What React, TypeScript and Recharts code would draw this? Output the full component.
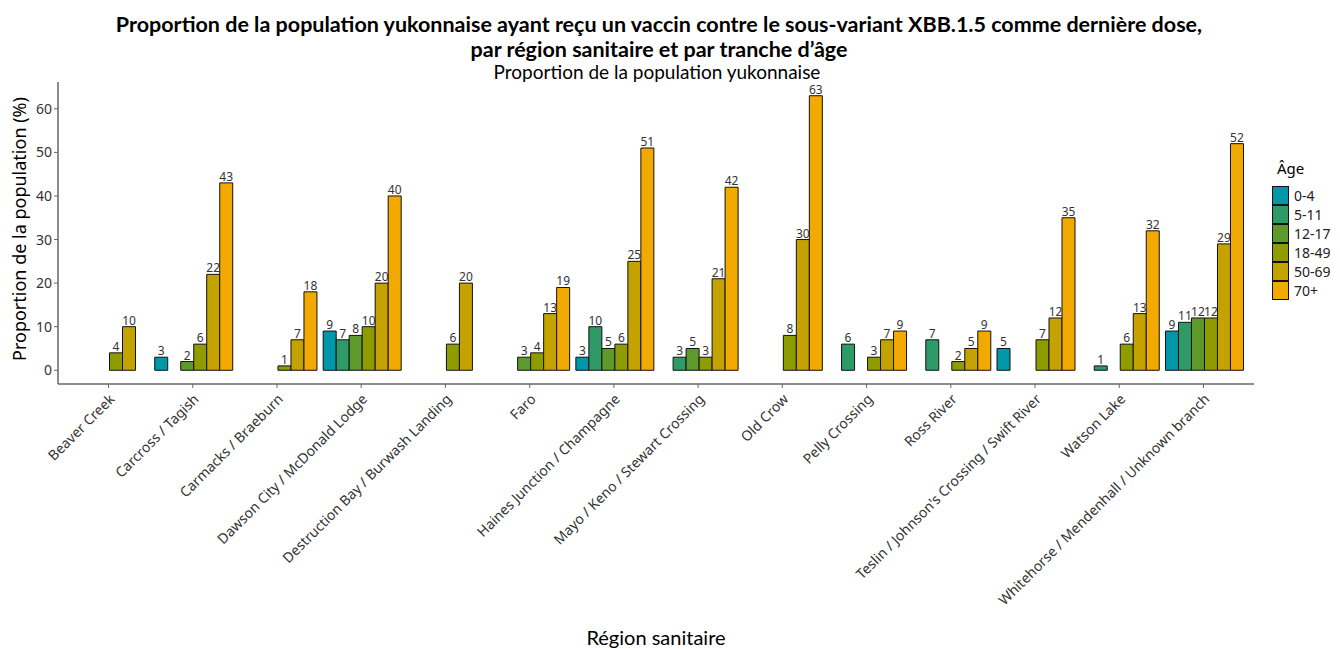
import { Bar, BarChart, LabelList, XAxis, YAxis } from "recharts";

const regions = [
  "Beaver Creek",
  "Carcross / Tagish",
  "Carmacks / Braeburn",
  "Dawson City / McDonald Lodge",
  "Destruction Bay / Burwash Landing",
  "Faro",
  "Haines Junction / Champagne",
  "Mayo / Keno / Stewart Crossing",
  "Old Crow",
  "Pelly Crossing",
  "Ross River",
  "Teslin / Johnson's Crossing / Swift River",
  "Watson Lake",
  "Whitehorse / Mendenhall / Unknown branch",
];

const ageGroups = ["0-4", "5-11", "12-17", "18-49", "50-69", "70+"];

const age0to4 = [null, 3, null, 9, null, null, 3, null, null, null, null, 5, null, 9];
const age5to11 = [null, null, null, 7, null, null, 10, 3, null, 6, 7, null, 1, 11];
const age12to17 = [null, 2, null, 8, null, 3, 5, 5, null, null, null, null, null, 12];
const age18to49 = [4, 6, 1, 10, 6, 4, 6, 3, 8, 3, 2, 7, 6, 12];
const age50to69 = [10, 22, 7, 20, 20, 13, 25, 21, 30, 7, 5, 12, 13, 29];
const age70plus = [null, 43, 18, 40, null, 19, 51, 42, 63, 9, 9, 35, 32, 52];

const yTicks = [0, 10, 20, 30, 40, 50, 60];

const series = [age0to4, age5to11, age12to17, age18to49, age50to69, age70plus];

const COLORS = ["#0097A8", "#2E9A68", "#5E9A2B", "#8F9C00", "#C4A300", "#F2A900"];

const data = regions.map((region, i) => {
  const row: Record<string, string | number | null> = { region };
  ageGroups.forEach((g, k) => {
    row[g] = series[k][i];
  });
  return row;
});

const TEXT_FONT = "Lato, 'Noto Sans', sans-serif";
const AXIS_FONT = "'Noto Sans', sans-serif";

function RotatedTick({ x, y, payload }: any) {
  return (
    <text
      transform={`translate(${x + 7},${y + 10}) rotate(-45)`}
      textAnchor="end"
      fontSize={14}
      fontFamily={AXIS_FONT}
      fill="#333"
    >
      {payload.value}
    </text>
  );
}

function ValueLabel({ x, y, width, value }: any) {
  if (value === null || value === undefined) return null;
  return (
    <text
      x={x + width / 2}
      y={y - 2}
      textAnchor="middle"
      fontSize={12}
      fontFamily={AXIS_FONT}
      fill="#333"
    >
      {value}
    </text>
  );
}

const titleLine = {
  position: "absolute" as const,
  left: 0,
  width: 1318,
  textAlign: "center" as const,
  fontWeight: 700,
  fontSize: 21.5,
  lineHeight: "22px",
  color: "#000",
  whiteSpace: "nowrap" as const,
};

export default function App() {
  return (
    <div
      style={{
        position: "absolute",
        left: 0,
        top: 0,
        width: 1340,
        height: 649,
        background: "#fff",
        fontFamily: TEXT_FONT,
      }}
    >
      <div style={{ ...titleLine, top: 13 }}>
        Proportion de la population yukonnaise ayant reçu un vaccin contre le sous-variant XBB.1.5 comme dernière dose,
      </div>
      <div style={{ ...titleLine, top: 38 }}>par région sanitaire et par tranche d’âge</div>
      <div
        style={{
          position: "absolute",
          left: 0,
          width: 1314,
          top: 62,
          textAlign: "center",
          fontSize: 19,
          lineHeight: "20px",
          color: "#000",
        }}
      >
        Proportion de la population yukonnaise
      </div>
      <div
        style={{
          position: "absolute",
          left: 0,
          width: 1312,
          top: 626,
          textAlign: "center",
          fontSize: 20,
          lineHeight: "22px",
          color: "#000",
        }}
      >
        Région sanitaire
      </div>

      <BarChart
        width={1340}
        height={649}
        data={data}
        margin={{ top: 82, right: 86, bottom: 0, left: 0 }}
        barCategoryGap={4.1}
        barGap={0}
      >
        <XAxis
          dataKey="region"
          interval={0}
          height={265}
          padding={{ left: 8.4, right: 8.4 }}
          tick={<RotatedTick />}
          tickSize={4}
          axisLine={{ stroke: "#666", strokeWidth: 1.5 }}
          tickLine={{ stroke: "#666" }}
        />
        <YAxis
          width={58}
          domain={[-3.15, 66.15]}
          ticks={yTicks}
          allowDataOverflow
          tickSize={4}
          tick={{ fill: "#333", fontSize: 14, fontFamily: AXIS_FONT }}
          axisLine={{ stroke: "#666", strokeWidth: 1.5 }}
          tickLine={{ stroke: "#666" }}
          label={{
            content: () => (
              <text
                x={26}
                y={229}
                transform="rotate(-90 26 229)"
                textAnchor="middle"
                fontSize={18}
                fontFamily={AXIS_FONT}
                fill="#000"
              >
                Proportion de la population (%)
              </text>
            ),
          }}
        />
        {ageGroups.map((g, k) => (
          <Bar
            key={g}
            dataKey={g}
            fill={COLORS[k]}
            stroke="#111"
            strokeWidth={1}
            isAnimationActive={false}
          >
            <LabelList dataKey={g} content={<ValueLabel />} />
          </Bar>
        ))}
      </BarChart>

      <div style={{ position: "absolute", left: 1272, top: 158, fontFamily: AXIS_FONT }}>
        <div style={{ fontSize: 15, marginLeft: 5, marginBottom: 8, color: "#000" }}>Âge</div>
        {ageGroups.map((g, k) => (
          <div key={g} style={{ display: "flex", alignItems: "center", height: 19 }}>
            <div
              style={{
                width: 15,
                height: 17,
                background: COLORS[k],
                border: "1px solid #111",
                boxSizing: "content-box",
              }}
            />
            <span style={{ fontSize: 14, marginLeft: 5, color: "#222" }}>{g}</span>
          </div>
        ))}
      </div>
    </div>
  );
}
